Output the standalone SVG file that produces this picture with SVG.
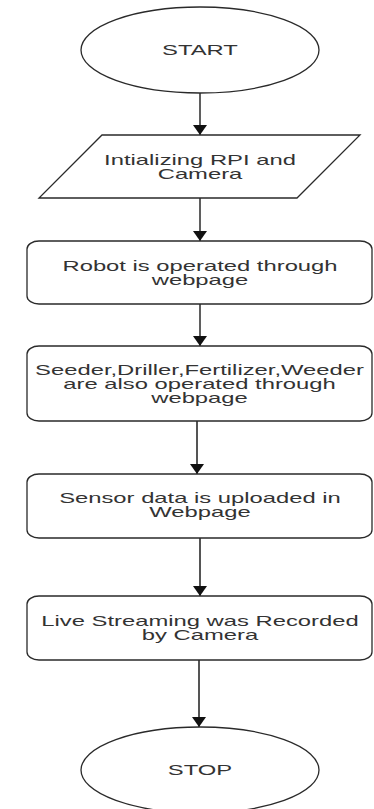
<svg xmlns="http://www.w3.org/2000/svg" width="374" height="809" viewBox="0 0 374 809">
  <style>
    .shape { fill: #ffffff; stroke: #2a2a2a; stroke-width: 1.3; }
    .edge { fill: none; stroke: #2a2a2a; stroke-width: 1.5; marker-end: url(#arrow); }
    .edge.soft { stroke: #555555; stroke-width: 2; }
    .label { font-family: "Liberation Sans", Arial, sans-serif; font-size: 14px; fill: #333333; text-anchor: middle; }
  </style>
  <defs>
    <marker id="arrow" viewBox="0 0 10 14" refX="10" refY="7" markerWidth="10" markerHeight="14" markerUnits="userSpaceOnUse" orient="auto">
      <path d="M0,0 L10,7 L0,14 Z" fill="#111111"/>
    </marker>
  </defs>
  <rect width="374" height="809" fill="#ffffff"/>

  <!-- connectors -->
  <g id="connectors">
    <path class="edge" d="M200,93 L200,135"/>
    <path class="edge" d="M200,198 L200,241"/>
    <path class="edge" d="M200,304 L200,346"/>
    <path class="edge soft" d="M197,421 L197,474"/>
    <path class="edge soft" d="M200,538 L200,596"/>
    <path class="edge soft" d="M199,660 L199,727"/>
  </g>

  <g id="start">
    <ellipse class="shape" cx="200" cy="50" rx="119" ry="43"/>
    <text class="label" transform="matrix(1.7 0 0 1 200 0)" x="0" y="55">START</text>
  </g>

  <g id="init">
    <polygon class="shape" points="102,135 360,135 297,198 39,198"/>
    <text class="label" transform="matrix(1.7 0 0 1 200 0)" x="0" y="165">Intializing RPI and</text>
    <text class="label" transform="matrix(1.7 0 0 1 200 0)" x="0" y="179">Camera</text>
  </g>

  <g id="robot">
    <rect class="shape" x="27" y="241" width="345" height="63" rx="12" ry="8"/>
    <text class="label" transform="matrix(1.7 0 0 1 200 0)" x="0" y="271.5">Robot is operated through</text>
    <text class="label" transform="matrix(1.7 0 0 1 200 0)" x="0" y="285">webpage</text>
  </g>

  <g id="tools">
    <rect class="shape" x="27" y="346" width="345" height="75" rx="12" ry="8"/>
    <text class="label" transform="matrix(1.7 0 0 1 199.5 0)" x="0" y="375">Seeder,Driller,Fertilizer,Weeder</text>
    <text class="label" transform="matrix(1.7 0 0 1 199.5 0)" x="0" y="389">are also operated through</text>
    <text class="label" transform="matrix(1.7 0 0 1 199.5 0)" x="0" y="403">webpage</text>
  </g>

  <g id="sensor">
    <rect class="shape" x="27" y="474" width="345" height="64" rx="12" ry="8"/>
    <text class="label" transform="matrix(1.7 0 0 1 200 0)" x="0" y="503">Sensor data is uploaded in</text>
    <text class="label" transform="matrix(1.7 0 0 1 200 0)" x="0" y="517">Webpage</text>
  </g>

  <g id="stream">
    <rect class="shape" x="27" y="596" width="345" height="64" rx="12" ry="8"/>
    <text class="label" transform="matrix(1.7 0 0 1 200 0)" x="0" y="626">Live Streaming was Recorded</text>
    <text class="label" transform="matrix(1.7 0 0 1 200 0)" x="0" y="640">by Camera</text>
  </g>

  <g id="stop">
    <ellipse class="shape" cx="200" cy="770" rx="119" ry="43"/>
    <text class="label" transform="matrix(1.7 0 0 1 200 0)" x="0" y="775">STOP</text>
  </g>
</svg>
